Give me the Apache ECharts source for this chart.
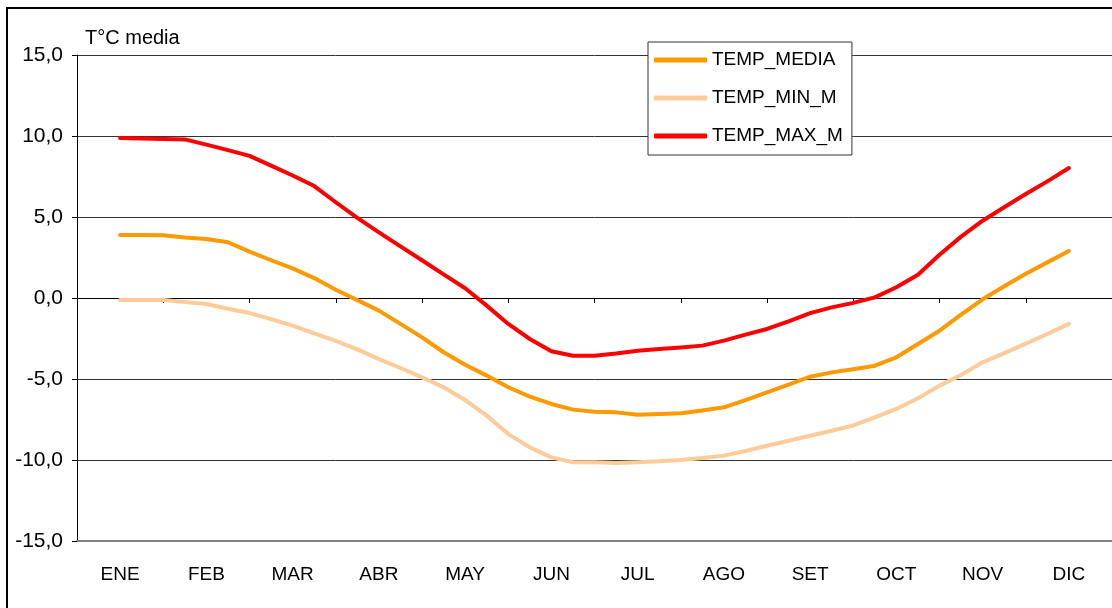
<!DOCTYPE html>
<html>
<head>
<meta charset="utf-8">
<script src="https://cdn.jsdelivr.net/npm/echarts@6/dist/echarts.min.js"></script>
<style>
  html, body { margin: 0; padding: 0; background: #fff; }
  #chart { width: 1112px; height: 608px; }
</style>
</head>
<body>
<div id="chart"></div>
<script>
var months = ['ENE', 'FEB', 'MAR', 'ABR', 'MAY', 'JUN', 'JUL', 'AGO', 'SET', 'OCT', 'NOV', 'DIC'];

// position of each reading, in months from ENE (4 per month)
var weeks = [0, 0.25, 0.5, 0.75, 1, 1.25, 1.5, 1.75, 2, 2.25, 2.5, 2.75,
    3, 3.25, 3.5, 3.75, 4, 4.25, 4.5, 4.75, 5, 5.25, 5.5, 5.75,
    6, 6.25, 6.5, 6.75, 7, 7.25, 7.5, 7.75, 8, 8.25, 8.5, 8.75,
    9, 9.25, 9.5, 9.75, 10, 10.25, 10.5, 10.75, 11];

var tempMedia = [3.89, 3.89, 3.87, 3.74, 3.64, 3.44, 2.86, 2.33, 1.83, 1.23, 0.51, -0.13,
    -0.78, -1.60, -2.43, -3.35, -4.12, -4.79, -5.51, -6.09, -6.54, -6.89, -7.02, -7.06,
    -7.20, -7.16, -7.12, -6.95, -6.75, -6.30, -5.82, -5.35, -4.86, -4.59, -4.40, -4.18,
    -3.66, -2.84, -2.02, -1.03, -0.08, 0.72, 1.50, 2.20, 2.90];

var tempMin = [-0.12, -0.12, -0.12, -0.25, -0.37, -0.66, -0.93, -1.30, -1.71, -2.18, -2.65, -3.17,
    -3.77, -4.32, -4.90, -5.51, -6.30, -7.26, -8.40, -9.22, -9.84, -10.14, -10.14, -10.19,
    -10.14, -10.08, -10.00, -9.88, -9.73, -9.44, -9.12, -8.81, -8.50, -8.19, -7.87, -7.37,
    -6.85, -6.19, -5.41, -4.75, -3.97, -3.40, -2.82, -2.22, -1.60];

var tempMax = [9.88, 9.84, 9.81, 9.79, 9.47, 9.13, 8.77, 8.17, 7.56, 6.91, 5.91, 4.95,
    4.05, 3.19, 2.33, 1.46, 0.60, -0.47, -1.60, -2.53, -3.29, -3.56, -3.56, -3.42,
    -3.25, -3.15, -3.05, -2.94, -2.63, -2.26, -1.91, -1.44, -0.93, -0.58, -0.30, 0.04,
    0.66, 1.44, 2.67, 3.79, 4.77, 5.60, 6.42, 7.20, 8.02];

function pairs(ys) {
    var out = [];
    for (var i = 0; i < weeks.length; i++) {
        out.push([weeks[i], ys[i]]);
    }
    return out;
}

function lineSeries(name, ys, color) {
    return {
        name: name,
        type: 'line',
        xAxisIndex: 0,
        data: pairs(ys),
        symbol: 'none',
        smooth: false,
        lineStyle: { color: color, width: 4, cap: 'round', join: 'round' },
        itemStyle: { color: color }
    };
}

var font = 'Liberation Sans, Arial, sans-serif';
var myChart = echarts.init(document.getElementById('chart'));

var option = {
    animation: false,
    backgroundColor: '#fff',
    grid: { left: 77, top: 55, width: 1044, height: 486 },
    xAxis: [
        {
            // value axis the lines are drawn on
            type: 'value',
            min: -0.5,
            max: 11.5,
            show: false,
            axisLine: { onZero: false }
        },
        {
            // month labels at the bottom
            type: 'category',
            data: months,
            position: 'bottom',
            boundaryGap: true,
            axisLine: { onZero: false, show: true, lineStyle: { color: '#808080', width: 2 } },
            axisTick: { show: false },
            axisLabel: { margin: 24, color: '#000', fontFamily: font, fontSize: 19 },
            splitLine: { show: false }
        },
        {
            // axis line crossing at 0
            type: 'category',
            data: months,
            position: 'bottom',
            boundaryGap: true,
            axisLine: { onZero: true, onZeroAxisIndex: 0, lineStyle: { color: '#000', width: 1 } },
            axisTick: { show: true, length: 5, lineStyle: { color: '#000' } },
            axisLabel: { show: false },
            splitLine: { show: false }
        }
    ],
    yAxis: {
        type: 'value',
        min: -15,
        max: 15,
        interval: 5,
        axisLine: { show: true, onZero: false, lineStyle: { color: '#000', width: 1 } },
        axisTick: { show: true, length: 5, lineStyle: { color: '#000' } },
        axisLabel: {
            margin: 14,
            color: '#000',
            fontFamily: font,
            fontSize: 21,
            formatter: function (v) {
                return v.toFixed(1).replace('.', ',');
            }
        },
        splitLine: { show: true, lineStyle: { color: '#333', width: 1 } }
    },
    legend: {
        orient: 'vertical',
        left: 648,
        top: 42,
        padding: [8, 9, 9, 6],
        itemGap: 18,
        itemWidth: 53,
        itemHeight: 5,
        icon: 'roundRect',
        backgroundColor: '#fff',
        borderColor: '#333',
        borderWidth: 1,
        textStyle: { color: '#000', fontFamily: font, fontSize: 19, lineHeight: 20, padding: [0, 0, 0, 0] },
        data: ['TEMP_MEDIA', 'TEMP_MIN_M', 'TEMP_MAX_M']
    },
    graphic: [
        {
            type: 'rect',
            shape: { x: 7, y: 8, width: 1200, height: 700 },
            style: { fill: 'none', stroke: '#000', lineWidth: 2 },
            silent: true
        },
        {
            type: 'text',
            left: 85,
            top: 28,
            style: { text: 'T°C media', fill: '#000', font: '20px ' + font }
        }
    ],
    series: [
        lineSeries('TEMP_MEDIA', tempMedia, '#FF9900'),
        lineSeries('TEMP_MIN_M', tempMin, '#FFCC99'),
        lineSeries('TEMP_MAX_M', tempMax, '#FF0000')
    ]
};

myChart.setOption(option);
</script>
</body>
</html>
